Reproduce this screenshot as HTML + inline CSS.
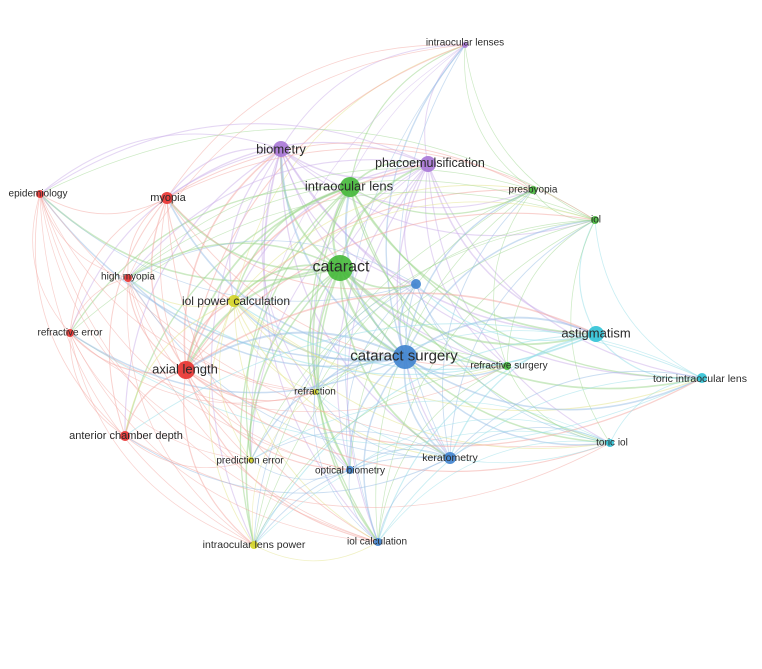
<!DOCTYPE html>
<html><head><meta charset="utf-8"><style>
html,body{margin:0;padding:0;background:#fff;width:762px;height:669px;overflow:hidden}
svg{display:block}
text{font-family:"Liberation Sans",sans-serif;fill:#2a2a2a;text-anchor:middle;dominant-baseline:central}
</style></head><body>
<svg id="s" width="762" height="669" viewBox="0 0 762 669">
<g id="edges" fill="none"></g>
<g id="nodes"></g>
<g id="labels">
<text x="465" y="43" font-size="10">intraocular lenses</text>
<text x="281" y="149" font-size="13">biometry</text>
<text x="430" y="163" font-size="12.5">phacoemulsification</text>
<text x="349" y="186" font-size="13">intraocular lens</text>
<text x="533" y="190" font-size="10">presbyopia</text>
<text x="596" y="220" font-size="10">iol</text>
<text x="38" y="194" font-size="10">epidemiology</text>
<text x="168" y="198" font-size="11">myopia</text>
<text x="341" y="267" font-size="16">cataract</text>
<text x="128" y="277" font-size="10">high myopia</text>
<text x="236" y="301" font-size="12">iol power calculation</text>
<text x="70" y="333" font-size="10">refractive error</text>
<text x="596" y="333" font-size="13">astigmatism</text>
<text x="404" y="356" font-size="15">cataract surgery</text>
<text x="509" y="366" font-size="10">refractive surgery</text>
<text x="185" y="369" font-size="13">axial length</text>
<text x="700" y="379" font-size="10.5">toric intraocular lens</text>
<text x="315" y="392" font-size="10">refraction</text>
<text x="126" y="436" font-size="11">anterior chamber depth</text>
<text x="612" y="443" font-size="10">toric iol</text>
<text x="450" y="458" font-size="10.5">keratometry</text>
<text x="250" y="461" font-size="10">prediction error</text>
<text x="350" y="471" font-size="10">optical biometry</text>
<text x="254" y="545" font-size="10.5">intraocular lens power</text>
<text x="377" y="542" font-size="10">iol calculation</text>
</g>
</svg>
<script>
var C={r:["#e8312f","#f4a6a0"],g:["#45b83a","#9ad68a"],p:["#a877d6","#cbb0ea"],y:["#d4d426","#e4e48a"],b:["#3f83cf","#98bde6"],c:["#2fc2d6","#93dde8"]};
var N=[[465,45,3,"p"],[281,149,8,"p"],[428,164,8,"p"],[350,187,10,"g"],[533,190,4,"g"],[595,220,4,"g"],[40,194,4,"r"],[167,198,6,"r"],[340,268,13,"g"],[416,284,5,"b"],[128,278,4,"r"],[234,301,6,"y"],[70,333,4,"r"],[596,334,8,"c"],[405,357,12,"b"],[507,366,4,"g"],[186,370,9,"r"],[702,378,5,"c"],[315,392,3,"y"],[125,436,5,"r"],[610,443,4,"c"],[450,458,6,"b"],[251,460,3,"y"],[350,470,4,"b"],[254,545,4,"y"],[378,542,4,"b"]];
var eg=document.getElementById("edges"),ng=document.getElementById("nodes"),ns="http://www.w3.org/2000/svg";
var seed=7;function rnd(){seed=(seed*9301+49297)%233280;return seed/233280;}
for(var i=0;i<N.length;i++)for(var j=i+1;j<N.length;j++){
 var a=N[i],b=N[j];var w=a[2]+b[2];
 if(rnd()>0.25+w/30)continue;
 var mx=(a[0]+b[0])/2,my=(a[1]+b[1])/2,dx=b[0]-a[0],dy=b[1]-a[1];
 var k=0.28;var cx=mx-dy*k,cy=my+dx*k;
 var src=a[2]>=b[2]?a:b;
 var p=document.createElementNS(ns,"path");
 p.setAttribute("d","M"+a[0]+","+a[1]+" Q"+cx+","+cy+" "+b[0]+","+b[1]);
 p.setAttribute("stroke",C[src[3]][1]);
 p.setAttribute("stroke-width",Math.max(0.7,w/11));
 p.setAttribute("opacity",0.5);
 eg.appendChild(p);}
N.forEach(function(n){var c=document.createElementNS(ns,"circle");c.setAttribute("cx",n[0]);c.setAttribute("cy",n[1]);c.setAttribute("r",n[2]);c.setAttribute("fill",C[n[3]][0]);c.setAttribute("opacity",0.9);ng.appendChild(c);});
</script>
</body></html>
